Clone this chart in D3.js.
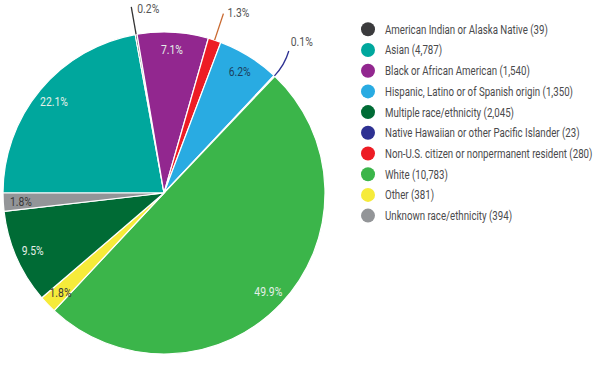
<!DOCTYPE html>
<html>
<head>
<meta charset="utf-8">
<script src="https://cdn.jsdelivr.net/npm/d3@7"></script>
<style>
  body { margin: 0; background: #fff; }
  text { font-family: Roboto, "Liberation Sans", sans-serif; }
</style>
</head>
<body>
<script>
let categories = [
  "American Indian or Alaska Native",
  "Asian",
  "Black or African American",
  "Hispanic, Latino or of Spanish origin",
  "Multiple race/ethnicity",
  "Native Hawaiian or other Pacific Islander",
  "Non-U.S. citizen or nonpermanent resident",
  "White",
  "Other",
  "Unknown race/ethnicity"
];
let counts = [39, 4787, 1540, 1350, 2045, 23, 280, 10783, 381, 394];
let colors = ["#3b3b3d", "#00a79d", "#92278f", "#29abe2", "#006b35", "#2e3192", "#ed1c24", "#3bb54a", "#f6eb3a", "#939598"];
// order of slices clockwise, starting at 9 o'clock
let pieOrder = [1, 0, 2, 6, 3, 5, 7, 8, 4, 9];
// small slices get a label outside with a leader line
let outside = [0, 5, 6];
let lineColors = { 0: "#333333", 5: "#2e3192", 6: "#c8662c" };
let darkLabels = [3, 8, 9];

let width = 600;
let height = 374;
let cx = 164, cy = 193, radius = 161;
let squeeze = 0.8; // condensed look
let total = d3.sum(counts);

let svg = d3.select("body").append("svg")
  .attr("width", width)
  .attr("height", height);

let dataset = pieOrder.map((i) => ({ i: i, value: counts[i] }));

let pie = d3.pie()
  .sort(null)
  .value((d) => d.value)
  .startAngle(-Math.PI / 2)
  .endAngle(Math.PI * 1.5);

let arcs = pie(dataset);

let arc = d3.arc().innerRadius(0).outerRadius(radius);
let labelArc = d3.arc().innerRadius(radius * 0.89).outerRadius(radius * 0.89);

let g = svg.append("g").attr("transform", `translate(${cx},${cy})`);

g.selectAll("path.slice")
  .data(arcs)
  .enter()
  .append("path")
  .attr("class", "slice")
  .attr("d", arc)
  .attr("fill", (d) => colors[d.data.i])
  .attr("stroke", "#fff")
  .attr("stroke-width", 1.2);

let pct = (v) => (v / total * 100).toFixed(1) + "%";

// inside labels
g.selectAll("text.inside")
  .data(arcs.filter((d) => !outside.includes(d.data.i)))
  .enter()
  .append("text")
  .attr("class", "inside")
  .attr("transform", (d) => `translate(${labelArc.centroid(d)}) scale(${squeeze},1)`)
  .attr("text-anchor", "middle")
  .attr("dy", "0.35em")
  .attr("font-size", "13px")
  .attr("fill", (d) => darkLabels.includes(d.data.i) ? (d.data.i == 3 ? "#1c3f5e" : "#3a3a3a") : "#e4efe8")
  .text((d) => pct(d.value));

// outside labels with leader lines
let outerArcs = arcs.filter((d) => outside.includes(d.data.i));
let polar = (a, r) => [Math.sin(a) * r, -Math.cos(a) * r];
let labelShift = { 0: [6, 6], 6: [4, 3], 5: [2, -5] };

outerArcs.forEach(function (d) {
  let a = (d.startAngle + d.endAngle) / 2;
  let p0 = polar(a, radius);
  let p1 = polar(a - (d.data.i == 5 ? 0.035 : 0), radius + 28);
  let mid = polar(a, radius + 15);
  g.append("path")
    .attr("d", `M${p0}Q${mid} ${p1}`)
    .attr("fill", "none")
    .attr("stroke", lineColors[d.data.i])
    .attr("stroke-width", 1.3);
  let s = labelShift[d.data.i];
  g.append("text")
    .attr("transform", `translate(${p1[0] + s[0]},${p1[1] + s[1]}) scale(${squeeze},1)`)
    .attr("font-size", "13px")
    .attr("fill", "#555")
    .text(pct(d.value));
});

// legend
let legendX = 368, legendY = 29.3, rowH = 20.7;

let legend = svg.selectAll("g.legend")
  .data(categories)
  .enter()
  .append("g")
  .attr("class", "legend")
  .attr("transform", (d, i) => `translate(${legendX},${legendY + i * rowH})`);

legend.append("circle")
  .attr("r", 7)
  .attr("fill", (d, i) => colors[i]);

legend.append("text")
  .attr("transform", "translate(17,0) scale(0.77,1)")
  .attr("dy", "0.35em")
  .attr("font-size", "12.6px")
  .attr("fill", "#4a4a4c")
  .text((d, i) => `${d} (${d3.format(",")(counts[i])})`);
</script>
</body>
</html>
